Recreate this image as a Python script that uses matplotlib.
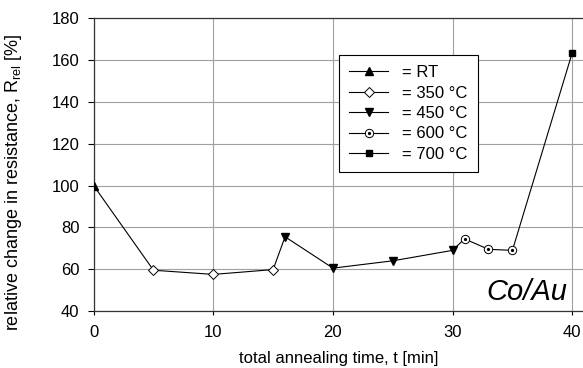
import matplotlib
matplotlib.use("Agg")
import matplotlib.pyplot as plt
from matplotlib.lines import Line2D
from matplotlib.legend_handler import HandlerTuple

plt.rcParams["font.family"] = ["Liberation Sans", "DejaVu Sans"]
plt.rcParams["mathtext.fontset"] = "custom"
plt.rcParams["mathtext.rm"] = "Liberation Sans"

# annealing time [min] and relative resistance [%], in measurement order
time_all = [0, 5, 10, 15, 16, 20, 25, 30, 31, 33, 35, 40]
r_all = [100, 59.5, 57.5, 59.8, 75.5, 60.5, 64, 69, 74.5, 69.5, 69, 163.5]

# points grouped by annealing temperature
t_rt, r_rt = [0], [100]
t_350, r_350 = [5, 10, 15], [59.5, 57.5, 59.8]
t_450, r_450 = [16, 20, 25, 30], [75.5, 60.5, 64, 69]
t_600, r_600 = [31, 33, 35], [74.5, 69.5, 69]
t_700, r_700 = [40], [163.5]

labels = ["= RT", "= 350 \u00b0C", "= 450 \u00b0C", "= 600 \u00b0C", "= 700 \u00b0C"]
x_ticks = [0, 10, 20, 30, 40]
y_ticks = [40, 60, 80, 100, 120, 140, 160, 180]

fig = plt.figure(figsize=(5.83, 3.68), dpi=100)
ax = fig.add_axes([0.1606, 0.1549, 0.8394, 0.7954])

ax.plot(time_all, r_all, color="black", lw=0.8, zorder=2)

styles = {
    "rt": dict(marker="^", color="black", ms=5.5),
    "350": dict(marker="D", mfc="white", mec="black", mew=0.7, ms=4.8),
    "450": dict(marker="v", color="black", ms=5.5),
    "600": dict(marker="o", mfc="white", mec="black", mew=0.7, ms=6),
    "700": dict(marker="s", color="black", ms=5),
}
dot = dict(marker="o", color="black", ms=1.3)

ax.plot(t_rt, r_rt, ls="none", zorder=3, **styles["rt"])
ax.plot(t_350, r_350, ls="none", zorder=3, **styles["350"])
ax.plot(t_450, r_450, ls="none", zorder=3, **styles["450"])
ax.plot(t_600, r_600, ls="none", zorder=3, **styles["600"])
ax.plot(t_600, r_600, ls="none", zorder=4, **dot)
ax.plot(t_700, r_700, ls="none", zorder=3, **styles["700"])

handles = [Line2D([], [], color="black", lw=0.8, **{k: v for k, v in styles[k2].items() if k != "color"},
                  **({} if "mfc" in styles[k2] else {"mfc": "black", "mec": "black"}))
           for k2 in ["rt", "350", "450", "600", "700"]]
handles[3] = (handles[3], Line2D([], [], ls="none", **dot))

leg = ax.legend(handles, labels, loc="upper left",
                bbox_to_anchor=(339 / 583, 1 - 55 / 368), bbox_transform=fig.transFigure,
                borderaxespad=0, fontsize=12, frameon=True, fancybox=False,
                handlelength=2.35, handletextpad=0.85, labelspacing=0.33,
                borderpad=0.6, numpoints=1,
                handler_map={tuple: HandlerTuple(ndivide=1, pad=0)})
leg.get_frame().set_edgecolor("black")
leg.get_frame().set_linewidth(0.8)
leg.get_frame().set_alpha(1)

ax.set_xlim(0, 40.9)
ax.set_ylim(40, 180)
ax.set_xticks(x_ticks)
ax.set_yticks(y_ticks)
ax.grid(True, color="#a0a0a0", lw=0.8)
ax.set_axisbelow(True)

ax.spines["right"].set_visible(False)
for s in ["left", "bottom", "top"]:
    ax.spines[s].set_linewidth(0.9)
    ax.spines[s].set_color("#333333")

ax.tick_params(direction="out", width=0.8, labelsize=12)
ax.tick_params(axis="x", length=3, pad=7)
ax.tick_params(axis="y", length=4.3, pad=6)

ax.set_xlabel("total annealing time, t [min]", fontsize=12)
ax.set_ylabel(r"relative change in resistance, R$_{\rm rel}$ [%]", fontsize=13)
ax.xaxis.set_label_coords(0.5, -0.137)
ax.yaxis.set_label_coords(-0.142, 0.441)

ax.text(39.6, 45.3, "Co/Au", fontsize=21, style="italic", ha="right", va="baseline")

fig.savefig("out.png", dpi=100)
